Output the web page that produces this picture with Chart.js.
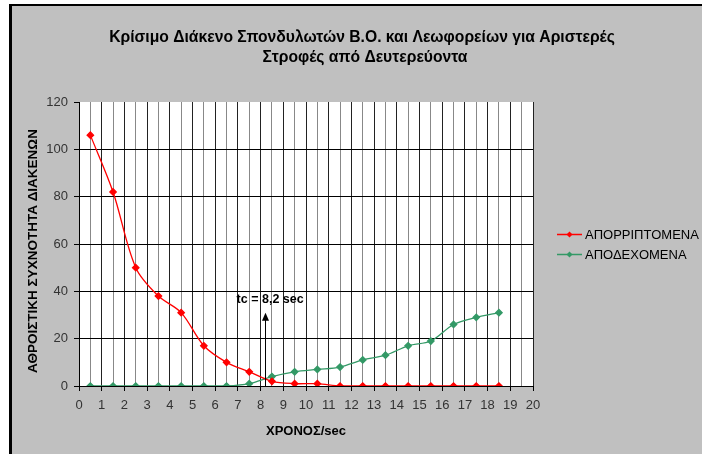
<!DOCTYPE html>
<html>
<head>
<meta charset="utf-8">
<script src="https://cdn.jsdelivr.net/npm/chart.js@4/dist/chart.umd.min.js"></script>
<style>
  html, body { margin: 0; padding: 0; background: #fff; }
  #wrap { width: 702px; height: 454px; }
</style>
</head>
<body>
<div id="wrap"><canvas id="c" width="702" height="454"></canvas></div>
<script>
// Critical gap: cumulative frequency of rejected / accepted gaps per time bin
const chartTitle = ['Κρίσιμο Διάκενο Σπονδυλωτών Β.Ο. και Λεωφορείων για Αριστερές', 'Στροφές από Δευτερεύοντα'];
const xAxisTitle = 'ΧΡΟΝΟΣ/sec';
const yAxisTitle = 'ΑΘΡΟΙΣΤΙΚΗ ΣΥΧΝΟΤΗΤΑ ΔΙΑΚΕΝΩΝ';
const seriesNames = ['ΑΠΟΡΡΙΠΤΟΜΕΝΑ', 'ΑΠΟΔΕΧΟΜΕΝΑ'];
const gapTimes = [0.5, 1.5, 2.5, 3.5, 4.5, 5.5, 6.5, 7.5, 8.5, 9.5, 10.5, 11.5, 12.5, 13.5, 14.5, 15.5, 16.5, 17.5, 18.5];
const rejected = [106, 82, 50, 38, 31, 17, 10, 6, 2, 1, 1, 0, 0, 0, 0, 0, 0, 0, 0];
const accepted = [0, 0, 0, 0, 0, 0, 0, 1, 4, 6, 7, 8, 11, 13, 17, 19, 26, 29, 31];
const criticalGap = 8.2;
const criticalLabel = 'tc = 8,2 sec';

const SANS = "'Liberation Sans', Arial, sans-serif";
const NARROW = "'Liberation Sans Narrow', 'Liberation Sans', Arial, sans-serif";

const toPoints = (ys) => gapTimes.map((x, i) => ({ x, y: ys[i] }));

// gray panel with a dark frame and a white plot area
const framePlugin = {
  id: 'frame',
  beforeDraw(chart) {
    const { ctx, chartArea: a, width, height } = chart;
    ctx.save();
    ctx.fillStyle = '#ffffff';
    ctx.fillRect(0, 0, width, height);
    ctx.fillStyle = '#000000';
    ctx.fillRect(9, 4, width - 9, height - 4);
    ctx.fillStyle = '#c0c0c0';
    ctx.fillRect(12, 6, width - 12, height - 6);
    ctx.fillStyle = '#ffffff';
    ctx.fillRect(a.left, a.top, a.right - a.left, a.bottom - a.top);
    ctx.restore();
  }
};

function diamond(ctx, x, y, r, color) {
  ctx.beginPath();
  ctx.moveTo(x, y - r);
  ctx.lineTo(x + r, y);
  ctx.lineTo(x, y + r);
  ctx.lineTo(x - r, y);
  ctx.closePath();
  ctx.fillStyle = color;
  ctx.fill();
}

// title, rotated y title, legend and the critical-gap marker
const textPlugin = {
  id: 'texts',
  afterDatasetsDraw(chart) {
    const { ctx, scales } = chart;
    const x = scales.x.getPixelForValue(criticalGap);
    const y0 = scales.y.getPixelForValue(0);
    const yTip = scales.y.getPixelForValue(31);
    ctx.save();
    ctx.strokeStyle = '#000';
    ctx.lineWidth = 1;
    ctx.beginPath();
    ctx.moveTo(Math.round(x) + 0.5, y0);
    ctx.lineTo(Math.round(x) + 0.5, yTip + 6);
    ctx.stroke();
    ctx.fillStyle = '#000';
    ctx.beginPath();
    ctx.moveTo(Math.round(x) + 0.5, yTip);
    ctx.lineTo(Math.round(x) + 4, yTip + 8);
    ctx.lineTo(Math.round(x) - 3, yTip + 8);
    ctx.closePath();
    ctx.fill();
    ctx.font = 'bold 12.5px ' + SANS;
    ctx.textAlign = 'center';
    ctx.textBaseline = 'middle';
    ctx.fillText(criticalLabel, x + 5, yTip - 13);
    ctx.restore();
  },
  afterDraw(chart) {
    const { ctx } = chart;
    ctx.save();
    ctx.fillStyle = '#000';
    ctx.textAlign = 'center';
    ctx.textBaseline = 'middle';
    ctx.font = 'bold 15.7px ' + SANS;
    ctx.fillText(chartTitle[0], 362, 38);
    ctx.fillText(chartTitle[1], 365, 58);

    ctx.save();
    ctx.translate(33, 251);
    ctx.rotate(-Math.PI / 2);
    ctx.font = 'bold 13.5px ' + SANS;
    ctx.fillText(yAxisTitle, 0, 0);
    ctx.restore();

    ctx.textAlign = 'left';
    ctx.font = '13px ' + SANS;
    chart.data.datasets.forEach((ds, i) => {
      const y = 234 + i * 20;
      ctx.strokeStyle = ds.borderColor;
      ctx.lineWidth = 1.5;
      ctx.beginPath();
      ctx.moveTo(557, y + 0.5);
      ctx.lineTo(582, y + 0.5);
      ctx.stroke();
      diamond(ctx, 569.5, y + 0.5, 3, ds.pointBackgroundColor);
      ctx.fillStyle = '#000';
      ctx.fillText(ds.label, 585, y + 1);
    });
    ctx.restore();
  }
};

new Chart(document.getElementById('c'), {
  type: 'line',
  data: {
    datasets: [
      {
        label: seriesNames[0],
        data: toPoints(rejected),
        borderColor: '#ff0000',
        pointBackgroundColor: '#ff0000',
        pointBorderColor: '#ff0000',
        borderWidth: 1.3,
        pointStyle: 'rectRot',
        pointRadius: 3.2,
        tension: 0.33
      },
      {
        label: seriesNames[1],
        data: toPoints(accepted),
        borderColor: '#339966',
        pointBackgroundColor: '#339966',
        pointBorderColor: '#339966',
        borderWidth: 1.3,
        pointStyle: 'rectRot',
        pointRadius: 3.2,
        tension: 0.33
      }
    ]
  },
  options: {
    responsive: false,
    animation: false,
    devicePixelRatio: 1,
    layout: { padding: { left: 0, top: 102, right: 169, bottom: 0 } },
    plugins: {
      legend: { display: false },
      title: { display: false },
      tooltip: { enabled: false }
    },
    scales: {
      x: {
        type: 'linear',
        min: 0,
        max: 20,
        afterFit(s) { s.height = 68; },
        ticks: {
          stepSize: 0.5,
          autoSkip: false,
          maxRotation: 0,
          padding: 7,
          color: '#333',
          font: { family: NARROW, size: 13 },
          callback: (v) => (v % 1 === 0 ? String(v) : '')
        },
        grid: {
          color: (c) => (c.tick && c.tick.value % 1 !== 0 ? '#888888' : '#222222'),
          tickColor: (c) => (c.tick && c.tick.value % 1 !== 0 ? 'rgba(0,0,0,0)' : '#000'),
          tickLength: 5,
          lineWidth: 1
        },
        border: { display: true, color: '#000', width: 1 },
        title: {
          display: true,
          text: xAxisTitle,
          color: '#000',
          font: { family: SANS, size: 13, weight: 'bold' },
          padding: { top: 0, bottom: 15 }
        }
      },
      y: {
        min: 0,
        max: 120,
        afterFit(s) { s.width = 79; },
        ticks: {
          stepSize: 20,
          padding: 6,
          color: '#333',
          font: { family: NARROW, size: 13 }
        },
        grid: {
          color: (c) => (c.tick && (c.tick.value === 120 || c.tick.value === 0) ? 'rgba(0,0,0,0)' : '#000'),
          tickColor: '#000',
          tickLength: 5,
          lineWidth: 1
        },
        border: { display: true, color: '#000', width: 1 }
      }
    }
  },
  plugins: [framePlugin, textPlugin]
});
</script>
</body>
</html>
